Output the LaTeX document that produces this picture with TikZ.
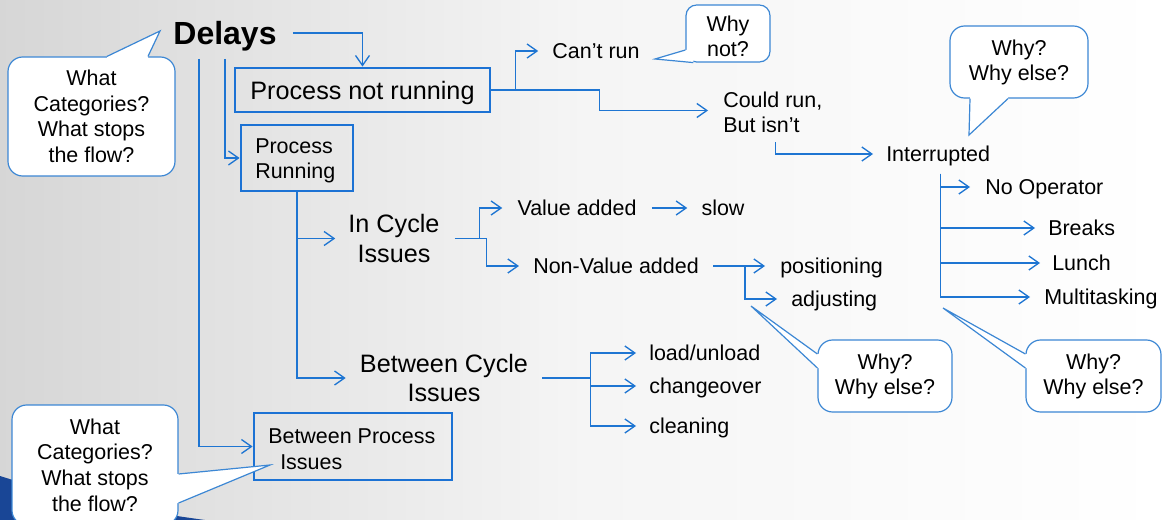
\documentclass[tikz,border=0pt]{standalone}
\usepackage{fontspec}
\setmainfont{Liberation Sans}
\usetikzlibrary{arrows.meta,calc}
\definecolor{cblue}{RGB}{30,117,210}
\definecolor{bblue}{RGB}{28,114,212}
\definecolor{kblue}{RGB}{60,135,212}
\definecolor{swoosh}{RGB}{25,70,150}
\newcommand\fsN{\fontsize{16.1}{19.2}\selectfont}
\newcommand\fsL{\fontsize{18.9}{21.8}\selectfont}
\newcommand\fsD{\fontsize{24}{28}\selectfont\bfseries}
\begin{document}
\begin{tikzpicture}[x=0.75pt,y=-0.75pt,
  conn/.style={draw=cblue, line width=1pt, -{Straight Barb[length=7.5pt,width=10.5pt]}},
  boxnode/.style={draw=bblue, line width=2.1pt, inner sep=0pt},
  lbl/.style={inner sep=0pt, font=\fsN, text height=11.6pt, text depth=0pt},
  mlbl/.style={inner sep=0pt, font=\fsN},
  big/.style={inner sep=0pt, font=\fsL, align=center},
  callout/.style={draw=kblue, line width=0.9pt, fill=white, rounded corners=11pt, inner sep=0pt},
  ctext/.style={inner sep=0pt, font=\fsN, align=center},
  cline/.style={draw=kblue, line width=0.9pt}]
\useasboundingbox (0,0) rectangle (1164,520);
\clip (0,0) rectangle (1164,520);
\shade[left color=black!16, right color=white, middle color=black!4] (0,0) rectangle (1164,520);
\fill[swoosh] (0,476) .. controls (60,495) and (130,510) .. (205,520) -- (0,520) -- cycle;

% main nodes
\node[inner sep=0pt, font=\fsD, text height=17.3pt, text depth=0pt] (delays) at (225,33) {Delays};
\node[boxnode, font=\fsL, text height=13.6pt, text depth=0pt, minimum width=191.25pt, minimum height=33pt] (pnr) at (362.5,90) {Process not running};
\node[boxnode, minimum width=84pt, minimum height=49.5pt] (prun) at (297,158) {};
\node[mlbl, anchor=west, align=left] (prunT) at (255,161) {Process\\Running};
\node[boxnode, minimum width=148.5pt, minimum height=50.25pt] (bpi) at (353,446.5) {};
\node[mlbl, anchor=west, align=left] (bpiT) at (268,449.5) {Between Process\\\hspace*{9pt}Issues};
\node[big] (incycle) at (394,238.5) {In Cycle\\Issues};
\node[big] (betcycle) at (444,378) {Between Cycle\\Issues};

\node[lbl] (cantrun) at (596,51) {Can’t run};
\node[mlbl, anchor=west, align=left] (couldrun) at (723,112.5) {Could run,\\But isn’t};
\node[lbl, anchor=west] (interrupted) at (886,154) {Interrupted};
\node[lbl, anchor=west] (noop) at (985,187) {No Operator};
\node[lbl, anchor=west] (breaks) at (1048,228) {Breaks};
\node[lbl, anchor=west] (lunch) at (1052,263) {Lunch};
\node[lbl, anchor=west] (multi) at (1044,297) {Multitasking};

\node[lbl] (valadd) at (577,208) {Value added};
\node[lbl] (slow) at (723,208) {slow};
\node[lbl] (nva) at (616,266) {Non-Value added};
\node[lbl, anchor=west] (positioning) at (780,266) {positioning};
\node[lbl, anchor=west] (adjusting) at (791,299) {adjusting};
\node[lbl, anchor=west] (load) at (649,353) {load/unload};
\node[lbl, anchor=west] (changeover) at (649,386) {changeover};
\node[lbl, anchor=west] (cleaning) at (649,426) {cleaning};

% connectors
\draw[conn] ($(delays.east)+(16,0)$) -| (pnr.north);
\draw[conn] ($(delays.south)+(0,14)$) |- (prun.west);
\draw[conn] ($(delays.south)+(-26,14)$) |- (bpi.west);
\draw[conn] (prun.south) |- ($(incycle.west)+(-13,0)$);
\draw[conn] (prun.south) |- ($(betcycle.west)+(-14,0)$);
\draw[conn] (pnr.east) -- ++(24,0) |- ($(cantrun.west)+(-14,0)$);
\draw[conn] (pnr.east) -- ++(108,0) |- ($(couldrun.west)+(-15,-2)$);
\draw[conn] ($(couldrun.south)+(3,9)$) |- ($(interrupted.west)+(-13,0)$);
\draw[conn] ($(interrupted.south)+(2,12)$) |- ($(noop.west)+(-15,0)$);
\draw[conn] ($(interrupted.south)+(2,12)$) |- ($(breaks.west)+(-13,0)$);
\draw[conn] ($(interrupted.south)+(2,12)$) |- ($(lunch.west)+(-12,0)$);
\draw[conn] ($(interrupted.south)+(2,12)$) |- ($(multi.west)+(-14,0)$);
\draw[conn] ($(incycle.east)+(15,0)$) -- ++(25,0) |- ($(valadd.west)+(-15,0)$);
\draw[conn] ($(incycle.east)+(15,0)$) -- ++(32,0) |- ($(nva.west)+(-14,0)$);
\draw[conn] ($(valadd.east)+(15,0)$) -- ($(slow.west)+(-14,0)$);
\draw[conn] ($(nva.east)+(14,0)$) -- ($(positioning.west)+(-15,0)$);
\draw[conn] ($(nva.east)+(46,0)$) |- ($(adjusting.west)+(-14,0)$);
\draw[conn] ($(betcycle.east)+(14,0)$) -- ++(48,0) |- ($(load.west)+(-13,0)$);
\draw[conn] ($(betcycle.east)+(14,0)$) -- ++(48,0) |- ($(changeover.west)+(-13,0)$);
\draw[conn] ($(betcycle.east)+(14,0)$) -- ++(48,0) |- ($(cleaning.west)+(-13,0)$);

% callouts
\node[callout, minimum width=125.25pt, minimum height=89.25pt] (cTL) at (91.5,116.5) {};
\node[ctext] (cTLt) at (91.5,116.5) {What\\Categories?\\What stops\\the flow?};
\coordinate (tTL) at (160,31);
\fill[white] ($(cTL.north)+(15.5,3)$) -- ($(cTL.north)+(15.5,0)$) -- (tTL) -- ($(cTL.north)+(56.5,0)$) -- ($(cTL.north)+(56.5,3)$) -- cycle;
\draw[cline] ($(cTL.north)+(15.5,0)$) -- (tTL) -- ($(cTL.north)+(56.5,0)$);

\node[callout, minimum width=124.5pt, minimum height=90pt] (cBL) at (95,465) {};
\node[ctext] (cBLt) at (95,465) {What\\Categories?\\What stops\\the flow?};
\coordinate (tBL) at (270,465);
\fill[white] ($(cBL.east)+(-3,9)$) -- ($(cBL.east)+(0,9)$) -- (tBL) -- ($(cBL.east)+(0,38)$) -- ($(cBL.east)+(-3,38)$) -- cycle;
\draw[cline] ($(cBL.east)+(0,9)$) -- (tBL) -- ($(cBL.east)+(0,38)$);

\node[callout, rounded corners=8pt, minimum width=63pt, minimum height=42.75pt] (cWN) at (728,33.5) {};
\node[ctext] (cWNt) at (728,36.5) {Why\\not?};
\coordinate (tWN) at (655,59);
\fill[white] ($(cWN.west)+(3,16.5)$) -- ($(cWN.west)+(0,16.5)$) -- (tWN) -- ($(cWN.south west)+(8,0)$) -- ($(cWN.south west)+(8,-3)$) -- cycle;
\draw[cline] ($(cWN.west)+(0,16.5)$) -- (tWN) -- ($(cWN.south west)+(8,0)$);

\node[callout, minimum width=103.5pt, minimum height=54pt] (cW1) at (1019,62) {};
\node[ctext] (cW1t) at (1019,62.5) {Why?\\Why else?};
\coordinate (tW1) at (969,135);
\fill[white] ($(cW1.south)+(-49,-3)$) -- ($(cW1.south)+(-49,0)$) -- (tW1) -- ($(cW1.south)+(-11,0)$) -- ($(cW1.south)+(-11,-3)$) -- cycle;
\draw[cline] ($(cW1.south)+(-49,0)$) -- (tW1) -- ($(cW1.south)+(-11,0)$);

\node[callout, minimum width=100.5pt, minimum height=54pt] (cW2) at (885,376) {};
\node[ctext] (cW2t) at (885,376.5) {Why?\\Why else?};
\coordinate (tW2) at (751,306);
\fill[white] ($(cW2.west)+(3,-22)$) -- ($(cW2.west)+(0,-22)$) -- (tW2) -- ($(cW2.west)+(0,-8)$) -- ($(cW2.west)+(3,-8)$) -- cycle;
\draw[cline] ($(cW2.west)+(0,-22)$) -- (tW2) -- ($(cW2.west)+(0,-8)$);

\node[callout, minimum width=101.25pt, minimum height=54pt] (cW3) at (1093.5,376) {};
\node[ctext] (cW3t) at (1093.5,376.5) {Why?\\Why else?};
\coordinate (tW3) at (943,308);
\fill[white] ($(cW3.west)+(3,-22)$) -- ($(cW3.west)+(0,-22)$) -- (tW3) -- ($(cW3.west)+(0,-8)$) -- ($(cW3.west)+(3,-8)$) -- cycle;
\draw[cline] ($(cW3.west)+(0,-22)$) -- (tW3) -- ($(cW3.west)+(0,-8)$);
\end{tikzpicture}
\end{document}
